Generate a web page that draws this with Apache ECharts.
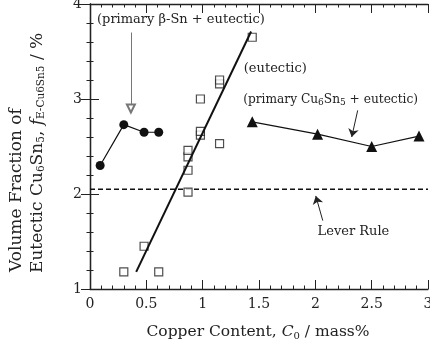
<!DOCTYPE html>
<html>
<head>
<meta charset="utf-8">
<script src="https://cdn.jsdelivr.net/npm/echarts@6/dist/echarts.min.js"></script>
<style>
  html, body { margin: 0; padding: 0; background: #fff; }
  #chart { width: 430px; height: 342px; }
</style>
</head>
<body>
<div id="chart"></div>
<script>
// primary beta-Sn + eutectic (filled circles)
const betaSn = [[0.09, 2.30], [0.30, 2.73], [0.48, 2.65], [0.61, 2.65]];
// primary Cu6Sn5 + eutectic (filled triangles)
const cu6sn5 = [[1.44, 2.76], [2.02, 2.63], [2.50, 2.50], [2.92, 2.61]];
// eutectic (open squares)
const eutectic = [
  [0.30, 1.18], [0.48, 1.45], [0.61, 1.18],
  [0.87, 2.02], [0.87, 2.25], [0.87, 2.39], [0.87, 2.46],
  [0.98, 2.62], [0.98, 2.66], [0.98, 3.00],
  [1.15, 2.53], [1.15, 3.16], [1.15, 3.20],
  [1.44, 3.65]
];
// fitted line through eutectic points
const fitLine = [[0.41, 1.18], [1.43, 3.71]];
// lever rule value
const leverRule = 2.05;
const xRange = [0, 3];
const yRange = [1, 4];

const serif = "DejaVu Serif";
const ink = "#222";

const chart = echarts.init(document.getElementById("chart"));

function axisBase(showLabel) {
  return {
    axisLine: { show: true, lineStyle: { color: ink, width: 1.3 } },
    axisTick: { show: true, inside: true, length: 9, lineStyle: { color: ink } },
    minorTick: { show: true, splitNumber: 5, length: 3.5, lineStyle: { color: ink } },
    splitLine: { show: false },
    axisLabel: {
      show: showLabel,
      margin: 8,
      color: ink,
      fontFamily: serif,
      fontSize: 14
    }
  };
}

const option = {
  animation: false,
  backgroundColor: "#fff",
  grid: { left: 90, top: 4, right: 2, bottom: 53, outerBoundsMode: "none", containLabel: false },
  xAxis: [
    Object.assign({ type: "value", min: xRange[0], max: xRange[1], interval: 0.5, position: "bottom" }, axisBase(true)),
    Object.assign({ type: "value", min: xRange[0], max: xRange[1], interval: 0.5, position: "top" }, axisBase(false))
  ],
  yAxis: [
    Object.assign({ type: "value", min: yRange[0], max: yRange[1], interval: 1, position: "left" }, axisBase(true)),
    Object.assign({ type: "value", min: yRange[0], max: yRange[1], interval: 1, position: "right" }, axisBase(false))
  ],
  series: [
    {
      name: "beta-Sn",
      type: "line",
      data: betaSn,
      symbol: "circle",
      symbolSize: 9,
      itemStyle: { color: "#111" },
      lineStyle: { color: "#111", width: 1.2 },
      markLine: {
        silent: true,
        symbol: ["none", "emptyTriangle"],
        symbolSize: 8,
        label: { show: false },
        lineStyle: { color: "#777", width: 1, type: "solid" },
        data: [[{ coord: [0.363, 3.70] }, { coord: [0.363, 2.90] }]]
      }
    },
    {
      name: "Cu6Sn5",
      type: "line",
      data: cu6sn5,
      symbol: "triangle",
      symbolSize: 11,
      itemStyle: { color: "#111" },
      lineStyle: { color: "#111", width: 1.2 },
      markLine: {
        silent: true,
        symbol: ["none", "arrow"],
        symbolSize: 8,
        label: { show: false },
        lineStyle: { color: "#222", width: 1, type: "solid" },
        data: [[{ coord: [2.376, 2.88] }, { coord: [2.323, 2.60] }]]
      }
    },
    {
      name: "eutectic",
      type: "scatter",
      data: eutectic,
      symbol: "rect",
      symbolSize: 8,
      itemStyle: { color: "#fff", borderColor: "#222", borderWidth: 1.2 },
      z: 3
    },
    {
      name: "fit",
      type: "line",
      data: fitLine,
      symbol: "none",
      lineStyle: { color: "#111", width: 2 },
      z: 4
    },
    {
      name: "lever",
      type: "line",
      data: [[xRange[0], leverRule], [xRange[1], leverRule]],
      symbol: "none",
      lineStyle: { color: "#111", width: 1.3, type: [5, 3] },
      markLine: {
        silent: true,
        symbol: ["none", "arrow"],
        symbolSize: 8,
        label: { show: false },
        lineStyle: { color: "#222", width: 1, type: "solid" },
        data: [[{ coord: [2.066, 1.72] }, { coord: [2.004, 1.98] }]]
      }
    }
  ]
};

chart.setOption(option);

// annotation anchors in data units
const subStyle = { fontFamily: serif, fontSize: 9, lineHeight: 8, verticalAlign: "bottom", fill: ink };
const itStyle = { fontFamily: serif, fontSize: 17, fontStyle: "italic", fill: ink };

function textAt(pt, text, size, rich) {
  const p = chart.convertToPixel({ seriesIndex: 0 }, pt);
  return {
    type: "text",
    x: p[0],
    y: p[1],
    silent: true,
    style: {
      text: text,
      fontFamily: serif,
      fontSize: size,
      lineHeight: size + 3,
      fill: ink,
      align: "left",
      verticalAlign: "middle",
      rich: rich || {}
    }
  };
}

const graphics = [
  textAt([0.062, 3.84], "(primary β-Sn + eutectic)", 13),
  textAt([1.365, 3.32], "(eutectic)", 13),
  textAt([1.36, 2.99], "(primary Cu{s|6}Sn{s|5} + eutectic)", 12.2, { s: subStyle }),
  textAt([2.02, 1.60], "Lever Rule", 13),
  {
    type: "text",
    x: 17, y: 272, rotation: Math.PI / 2, silent: true,
    style: { text: "Volume Fraction of", fontFamily: serif, fontSize: 17, fill: ink, align: "left", verticalAlign: "middle" }
  },
  {
    type: "text",
    x: 38, y: 273, rotation: Math.PI / 2, silent: true,
    style: {
      text: "Eutectic Cu{s|6}Sn{s|5}, {i|f}{s|E-Cu6Sn5} / %",
      fontFamily: serif, fontSize: 17, lineHeight: 18, fill: ink, align: "left", verticalAlign: "middle",
      rich: { s: Object.assign({}, subStyle, { fontSize: 10.5 }), i: itStyle }
    }
  },
  {
    type: "text",
    x: 258, y: 332, silent: true,
    style: {
      text: "Copper Content, {i|C}{s|0} / mass%",
      fontFamily: serif, fontSize: 15.5, lineHeight: 18, fill: ink, align: "center", verticalAlign: "middle",
      rich: { s: Object.assign({}, subStyle, { fontSize: 10 }), i: Object.assign({}, itStyle, { fontSize: 15.5 }) }
    }
  }
];

chart.setOption({ graphic: graphics });
</script>
</body>
</html>
